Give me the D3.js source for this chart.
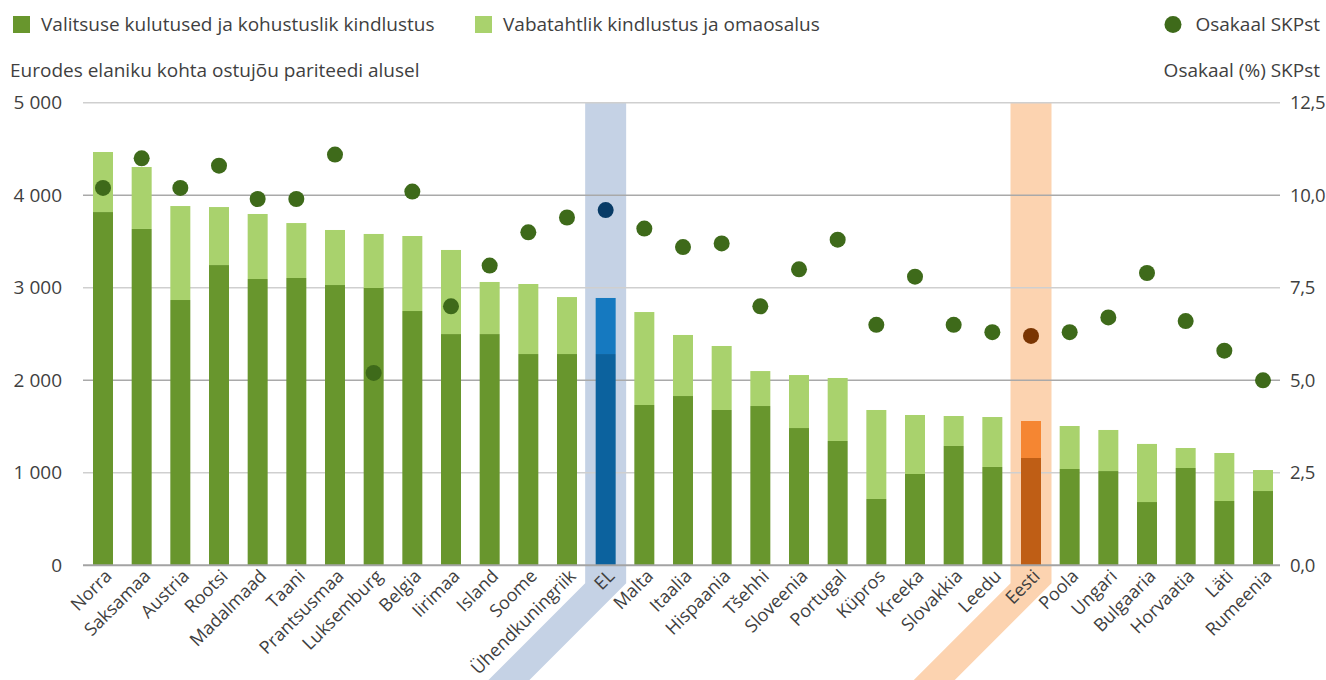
<!DOCTYPE html>
<html><head><meta charset="utf-8">
<script src="https://cdn.jsdelivr.net/npm/d3@7"></script>
<style>
body{margin:0;background:#fff;}
text{font-family:"Open Sans",sans-serif;fill:#3f3f3f;}
</style></head>
<body><svg id="c" width="1326" height="680"></svg>
<script>
const categories = ["Norra","Saksamaa","Austria","Rootsi","Madalmaad","Taani","Prantsusmaa","Luksemburg","Belgia","Iirimaa","Island","Soome","Ühendkuningriik","EL","Malta","Itaalia","Hispaania","Tšehhi","Sloveenia","Portugal","Küpros","Kreeka","Slovakkia","Leedu","Eesti","Poola","Ungari","Bulgaaria","Horvaatia","Läti","Rumeenia"];
const mandatory = [3819,3636,2868,3246,3095,3106,3030,2998,2749,2500,2500,2284,2284,2284,1733,1830,1679,1722,1484,1344,717,987,1290,1063,1160,1041,1019,684,1052,695,803];
const voluntary = [649,670,1016,627,703,594,595,584,811,909,563,757,616,606,1005,660,692,378,573,681,962,638,324,540,400,465,444,628,216,519,227];
const gdpShare = [10.2,11.0,10.2,10.8,9.9,9.9,11.1,5.2,10.1,7.0,8.1,9.0,9.4,9.6,9.1,8.6,8.7,7.0,8.0,8.8,6.5,7.8,6.5,6.3,6.2,6.3,6.7,7.9,6.6,5.8,5.0];
const leftTicks = [0,1000,2000,3000,4000,5000];
const rightTicks = [0,2.5,5,7.5,10,12.5];
const legendLabels = ["Valitsuse kulutused ja kohustuslik kindlustus","Vabatahtlik kindlustus ja omaosalus","Osakaal SKPst"];
const leftTitle = "Eurodes elaniku kohta ostujõu pariteedi alusel";
const rightTitle = "Osakaal (%) SKPst";
const highlights = {"EL":{low:"#0c629e",high:"#1579c0",dot:"#083b66",band:"#c5d2e5"},
                    "Eesti":{low:"#bf5e15",high:"#f58632",dot:"#7a3502",band:"#fcd3b0"}};

const colLow="#68962d", colHigh="#a9d26d", colDot="#3e6a1a";
const FS="19px";
const svg=d3.select("#c");
const W=1326,H=680;
const gx0=83, gx1=1280;
const x=d3.scaleBand().domain(categories).range([93,1273]).paddingInner(0.483).paddingOuter(0);
const y=d3.scaleLinear().domain([0,5000]).range([565.3,102.8]);
const y2=d3.scaleLinear().domain([0,12.5]).range([565.3,102.8]);
const loc=d3.formatLocale({decimal:",",thousands:" ",grouping:[3],currency:["",""]});
const fmtL=loc.format(",d"), fmtR=loc.format(",.1f");

// highlight bands
const bend = y(0)+18;
Object.keys(highlights).forEach(k=>{
  const c=x(k)+x.bandwidth()/2, hw=20.5;
  const pts=[[c-hw,y(5000)],[c+hw,y(5000)],[c+hw,bend],[c+hw-(H-bend),H],[c-hw-(H-bend),H],[c-hw,bend]];
  svg.append("polygon").attr("points",pts.map(p=>p.join(",")).join(" ")).attr("fill",highlights[k].band);
});

// gridlines
svg.append("g").selectAll("line").data(leftTicks.filter(d=>d>0)).join("line")
  .attr("x1",gx0).attr("x2",gx1).attr("y1",d=>y(d)).attr("y2",d=>y(d))
  .attr("stroke",d=>(d%2000===0)?"#a9a9a9":"#cfcfcf").attr("stroke-width",1.5);

// bars
const data=categories.map((c,i)=>({c,m:mandatory[i],v:voluntary[i],s:gdpShare[i]}));
const g=svg.append("g");
g.selectAll("rect.low").data(data).join("rect").attr("class","low")
  .attr("x",d=>x(d.c)).attr("width",x.bandwidth())
  .attr("y",d=>y(d.m)).attr("height",d=>y(0)-y(d.m))
  .attr("fill",d=>highlights[d.c]?highlights[d.c].low:colLow);
g.selectAll("rect.high").data(data).join("rect").attr("class","high")
  .attr("x",d=>x(d.c)).attr("width",x.bandwidth())
  .attr("y",d=>y(d.m+d.v)).attr("height",d=>y(d.m)-y(d.m+d.v))
  .attr("fill",d=>highlights[d.c]?highlights[d.c].high:colHigh);

// baseline
svg.append("line").attr("x1",gx0).attr("x2",gx1).attr("y1",y(0)).attr("y2",y(0)).attr("stroke","#a3a3a3").attr("stroke-width",2);

// dots
svg.append("g").selectAll("circle").data(data).join("circle")
  .attr("cx",d=>x(d.c)+x.bandwidth()/2).attr("cy",d=>y2(d.s)).attr("r",8)
  .attr("fill",d=>highlights[d.c]?highlights[d.c].dot:colDot);

// axes labels
svg.append("g").selectAll("text").data(leftTicks).join("text")
  .attr("x",62).attr("y",d=>y(d)).attr("dy","0.35em").attr("text-anchor","end")
  .style("font-size",FS).text(d=>fmtL(d));
svg.append("g").selectAll("text").data(rightTicks).join("text")
  .attr("x",1290).attr("y",d=>y2(d)).attr("dy","0.35em").attr("text-anchor","start")
  .style("font-size","18.5px").style("letter-spacing","-0.3px").text(d=>fmtR(d));

// category labels
svg.append("g").selectAll("text").data(categories).join("text")
  .attr("transform",d=>`translate(${x(d)+x.bandwidth()/2+1},${y(0)+3}) rotate(-45)`)
  .attr("text-anchor","end").attr("dy","0.7em")
  .style("font-size","18px").text(d=>d);

// titles
svg.append("text").attr("x",10).attr("y",77).style("font-size",FS).text(leftTitle);
svg.append("text").attr("x",1320).attr("y",77).attr("text-anchor","end").style("font-size",FS).text(rightTitle);

// legend
const lg=svg.append("g");
lg.append("rect").attr("x",13).attr("y",16).attr("width",17).attr("height",17).attr("fill",colLow);
lg.append("text").attr("x",41).attr("y",31).style("font-size",FS).text(legendLabels[0]);
lg.append("rect").attr("x",475).attr("y",16).attr("width",17).attr("height",17).attr("fill",colHigh);
lg.append("text").attr("x",503).attr("y",31).style("font-size",FS).text(legendLabels[1]);
lg.append("circle").attr("cx",1173).attr("cy",24.5).attr("r",8.5).attr("fill",colDot);
lg.append("text").attr("x",1320).attr("y",31).attr("text-anchor","end").style("font-size",FS).text(legendLabels[2]);
</script></body></html>
